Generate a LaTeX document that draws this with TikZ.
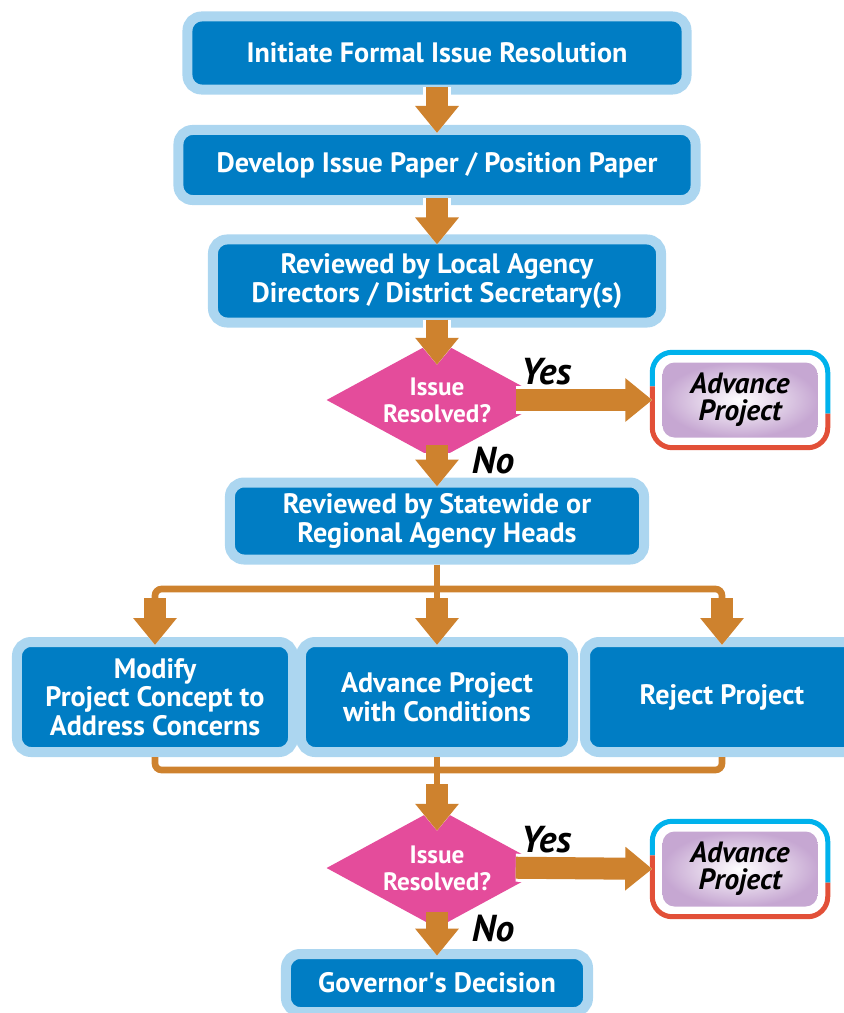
\documentclass[tikz,border=0pt]{standalone}
\usepackage{fontspec}
\setmainfont{PT Sans}
\usetikzlibrary{shapes.geometric,arrows.meta}
\definecolor{boxblue}{RGB}{0,125,196}
\definecolor{rimblue}{RGB}{172,214,240}
\definecolor{arrowbrown}{RGB}{206,130,46}
\definecolor{decpink}{RGB}{228,76,155}
\definecolor{advpurple}{RGB}{198,167,210}
\definecolor{ringblue}{RGB}{0,178,236}
\definecolor{ringred}{RGB}{226,80,56}
\begin{document}
\begin{tikzpicture}[x=0.03cm, y=-0.03cm,
    stepbox/.style={fill=boxblue, draw=rimblue, line width=0.3cm, rounded corners=0.42cm, text=white, align=center, inner sep=0pt, font=\bfseries\fontsize{24}{24.5}\selectfont},
    decision/.style={diamond, aspect=2, fill=decpink, text=white, align=center, inner sep=0pt, minimum width=6.63cm, minimum height=3.6cm, font=\bfseries\fontsize{21.5}{23}\selectfont},
    advbox/.style={rounded corners=0.36cm, inner color=white, outer color=advpurple, minimum width=4.65cm, minimum height=2.25cm, align=center, font=\bfseries\itshape\fontsize{25}{23}\selectfont},
    answer/.style={font=\bfseries\itshape\fontsize{32}{32}\selectfont},
    flow/.style={arrowbrown, line width=0.66cm, -{Triangle[width=1.26cm,length=0.81cm]}, preaction={draw=white, line width=0.84cm, -{Triangle[width=1.6cm,length=1cm]}}},
    link/.style={draw=arrowbrown, line width=0.2cm, rounded corners=0.2cm}]
    \useasboundingbox (0,0) rectangle (843,1013);
    \node[stepbox, minimum width=14.97cm, minimum height=2.19cm] (initiate) at (437,53) {Initiate Formal Issue Resolution};
    \node[stepbox, minimum width=15.51cm, minimum height=2.1cm] (develop) at (437,165) {Develop Issue Paper / Position Paper};
    \node[stepbox, minimum width=13.44cm, minimum height=2.49cm] (review1) at (437,281) {Reviewed by Local Agency\\Directors / District Secretary(s)};
    \node[decision] (resolved1) at (437,400) {Issue\\Resolved?};
    \node[advbox] (advA) at (740,400) {Advance\\Project};
    \node[stepbox, minimum width=12.42cm, minimum height=2.31cm] (review2) at (437,521) {Reviewed by Statewide or\\Regional Agency Heads};
    \node[stepbox, minimum width=8.28cm, minimum height=3.3cm] (modify) at (155,697) {Modify\\Project Concept to\\Address Concerns};
    \node[stepbox, minimum width=8.16cm, minimum height=3.3cm] (conditions) at (437,697) {Advance Project\\with Conditions};
    \node[stepbox, minimum width=8.22cm, minimum height=3.3cm] (reject) at (722,697) {Reject Project};
    \node[decision] (resolved2) at (437,868) {Issue\\Resolved?};
    \node[advbox] (advB) at (740,869) {Advance\\Project};
    \node[stepbox, minimum width=9.06cm, minimum height=1.74cm] (governor) at (437,983) {Governor\textquotesingle s Decision};
    \node[answer] (yes1) at (546,372) {Yes};
    \node[answer] (no1) at (493,461) {No};
    \node[answer] (yes2) at (546,840) {Yes};
    \node[answer] (no2) at (493,929) {No};
    \foreach \adv in {advA,advB} {
        \draw[ringblue, line width=0.15cm, rounded corners=0.6cm] ([shift={(-10,24)}]\adv.north west) -- ([shift={(-10,-10)}]\adv.north west) -- ([shift={(10,-10)}]\adv.north east) -- ([shift={(10,-24)}]\adv.south east);
        \draw[ringred, line width=0.15cm, rounded corners=0.6cm] ([shift={(10,-24)}]\adv.south east) -- ([shift={(10,10)}]\adv.south east) -- ([shift={(-10,10)}]\adv.south west) -- ([shift={(-10,24)}]\adv.north west);
    }
    \coordinate (splitM) at (437,589);
    \coordinate (startL) at (155,598);
    \coordinate (startM) at (437,598);
    \coordinate (startR) at (722,598);
    \coordinate (joinM) at (437,770);
    \coordinate (mergeOut) at (437,784);
    \draw[link] (startL) |- (splitM) -| (startR);
    \draw[link] (review2.south) -- (startM);
    \draw[link] (modify.south) |- (joinM) -| (reject.south);
    \draw[link] (conditions.south) -- (mergeOut);
    \draw[flow, shorten <=-0.24cm, shorten >=-0.24cm] (initiate.south) -- (develop.north);
    \draw[flow, shorten <=-0.21cm, shorten >=-0.3cm] (develop.south) -- (review1.north);
    \draw[flow, shorten <=-0.24cm, shorten >=-0.75cm] (review1.south) -- (resolved1.north);
    \draw[flow, shorten <=-0.96cm, shorten >=0.3cm] (resolved1.east) -- (advA.west);
    \draw[flow, shorten <=-0.45cm, shorten >=-0.27cm] (resolved1.south) -- (review2.north);
    \draw[flow, shorten >=-0.24cm] (startL) -- (modify.north);
    \draw[flow, shorten >=-0.24cm] (startM) -- (conditions.north);
    \draw[flow, shorten >=-0.24cm] (startR) -- (reject.north);
    \draw[flow, shorten >=-0.69cm] (mergeOut) -- (resolved2.north);
    \draw[flow, shorten <=-0.96cm, shorten >=0.3cm] (resolved2.east) -- (advB.west);
    \draw[flow, shorten <=-0.5cm, shorten >=-0.2cm] (resolved2.south) -- (governor.north);
\end{tikzpicture}
\end{document}
